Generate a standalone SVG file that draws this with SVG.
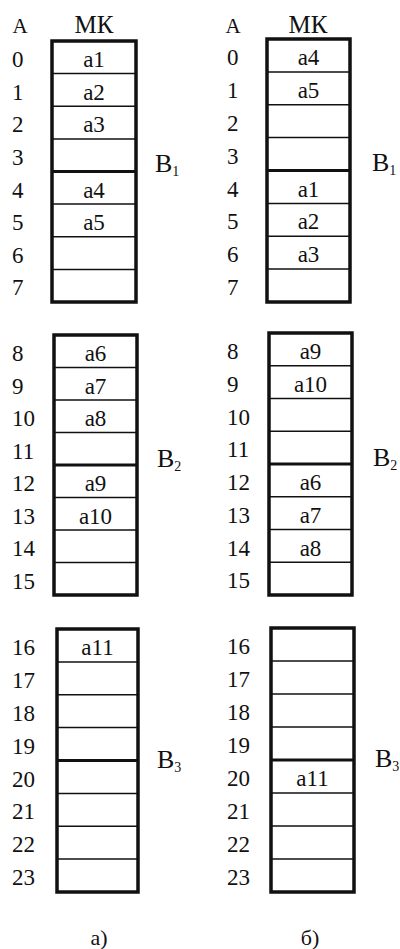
<svg xmlns="http://www.w3.org/2000/svg" width="400" height="949" viewBox="0 0 400 949" font-family="'Liberation Serif', 'DejaVu Serif', serif">
<style>
text{font-family:'Liberation Serif','DejaVu Serif',serif;fill:#111}
.hd{font-size:21px}
.mk{font-size:25px}
.n{font-size:23px}
.c{font-size:23px;text-anchor:middle}
.b{font-size:26px}
.s{font-size:14px}
.cap{font-size:22px;text-anchor:middle}
.outer{fill:#fff;stroke:#111;stroke-width:3.5}
.thin{stroke:#111;stroke-width:1.5}
.thick{stroke:#111;stroke-width:3}
</style>
<rect width="400" height="949" fill="#fff"/>
<g id="headers">
<text class="hd" x="20" y="33" text-anchor="middle">A</text>
<text class="mk" x="94" y="33" text-anchor="middle">МК</text>
<text class="hd" x="233" y="33" text-anchor="middle">A</text>
<text class="mk" x="308" y="33" text-anchor="middle">МК</text>
</g>
<g id="left-b1">
<rect class="outer" x="52" y="41" width="84" height="261"/>
<line class="thin" x1="52" y1="73.6" x2="136" y2="73.6"/>
<line class="thin" x1="52" y1="106.3" x2="136" y2="106.3"/>
<line class="thin" x1="52" y1="138.9" x2="136" y2="138.9"/>
<line class="thick" x1="52" y1="171.5" x2="136" y2="171.5"/>
<line class="thin" x1="52" y1="204.1" x2="136" y2="204.1"/>
<line class="thin" x1="52" y1="236.8" x2="136" y2="236.8"/>
<line class="thin" x1="52" y1="269.4" x2="136" y2="269.4"/>
<text class="n" x="12" y="67">0</text>
<text class="n" x="12" y="99.6">1</text>
<text class="n" x="12" y="132.3">2</text>
<text class="n" x="12" y="164.9">3</text>
<text class="n" x="12" y="197.5">4</text>
<text class="n" x="12" y="230.1">5</text>
<text class="n" x="12" y="262.8">6</text>
<text class="n" x="12" y="295.4">7</text>
<text class="c" x="94" y="67">a1</text>
<text class="c" x="94" y="99.6">a2</text>
<text class="c" x="94" y="132.3">a3</text>
<text class="c" x="94" y="197.5">a4</text>
<text class="c" x="94" y="230.1">a5</text>
<text class="b" x="155" y="172">B<tspan class="s" dy="4">1</tspan></text>
</g>
<g id="left-b2">
<rect class="outer" x="54" y="335" width="83" height="260"/>
<line class="thin" x1="54" y1="367.5" x2="137" y2="367.5"/>
<line class="thin" x1="54" y1="400" x2="137" y2="400"/>
<line class="thin" x1="54" y1="432.5" x2="137" y2="432.5"/>
<line class="thick" x1="54" y1="465" x2="137" y2="465"/>
<line class="thin" x1="54" y1="497.5" x2="137" y2="497.5"/>
<line class="thin" x1="54" y1="530" x2="137" y2="530"/>
<line class="thin" x1="54" y1="562.5" x2="137" y2="562.5"/>
<text class="n" x="12" y="361">8</text>
<text class="n" x="12" y="393.5">9</text>
<text class="n" x="12" y="426">10</text>
<text class="n" x="12" y="458.5">11</text>
<text class="n" x="12" y="491">12</text>
<text class="n" x="12" y="523.5">13</text>
<text class="n" x="12" y="556">14</text>
<text class="n" x="12" y="588.5">15</text>
<text class="c" x="95.5" y="361">a6</text>
<text class="c" x="95.5" y="393.5">a7</text>
<text class="c" x="95.5" y="426">a8</text>
<text class="c" x="95.5" y="491">a9</text>
<text class="c" x="95.5" y="523.5">a10</text>
<text class="b" x="157" y="467">B<tspan class="s" dy="4">2</tspan></text>
</g>
<g id="left-b3">
<rect class="outer" x="57" y="629" width="81" height="263"/>
<line class="thin" x1="57" y1="661.9" x2="138" y2="661.9"/>
<line class="thin" x1="57" y1="694.8" x2="138" y2="694.8"/>
<line class="thin" x1="57" y1="727.6" x2="138" y2="727.6"/>
<line class="thick" x1="57" y1="760.5" x2="138" y2="760.5"/>
<line class="thin" x1="57" y1="793.4" x2="138" y2="793.4"/>
<line class="thin" x1="57" y1="826.3" x2="138" y2="826.3"/>
<line class="thin" x1="57" y1="859.1" x2="138" y2="859.1"/>
<text class="n" x="12" y="655">16</text>
<text class="n" x="12" y="687.9">17</text>
<text class="n" x="12" y="720.8">18</text>
<text class="n" x="12" y="753.6">19</text>
<text class="n" x="12" y="786.5">20</text>
<text class="n" x="12" y="819.4">21</text>
<text class="n" x="12" y="852.3">22</text>
<text class="n" x="12" y="885.1">23</text>
<text class="c" x="97.5" y="655">a11</text>
<text class="b" x="157" y="768">B<tspan class="s" dy="4">3</tspan></text>
</g>
<g id="right-b1">
<rect class="outer" x="267" y="39" width="83" height="263"/>
<line class="thin" x1="267" y1="71.9" x2="350" y2="71.9"/>
<line class="thin" x1="267" y1="104.8" x2="350" y2="104.8"/>
<line class="thin" x1="267" y1="137.6" x2="350" y2="137.6"/>
<line class="thick" x1="267" y1="170.5" x2="350" y2="170.5"/>
<line class="thin" x1="267" y1="203.4" x2="350" y2="203.4"/>
<line class="thin" x1="267" y1="236.3" x2="350" y2="236.3"/>
<line class="thin" x1="267" y1="269.1" x2="350" y2="269.1"/>
<text class="n" x="227" y="65">0</text>
<text class="n" x="227" y="97.9">1</text>
<text class="n" x="227" y="130.8">2</text>
<text class="n" x="227" y="163.6">3</text>
<text class="n" x="227" y="196.5">4</text>
<text class="n" x="227" y="229.4">5</text>
<text class="n" x="227" y="262.3">6</text>
<text class="n" x="227" y="295.1">7</text>
<text class="c" x="308.5" y="65">a4</text>
<text class="c" x="308.5" y="97.9">a5</text>
<text class="c" x="308.5" y="196.5">a1</text>
<text class="c" x="308.5" y="229.4">a2</text>
<text class="c" x="308.5" y="262.3">a3</text>
<text class="b" x="372" y="171">B<tspan class="s" dy="4">1</tspan></text>
</g>
<g id="right-b2">
<rect class="outer" x="269" y="333" width="83" height="262"/>
<line class="thin" x1="269" y1="365.8" x2="352" y2="365.8"/>
<line class="thin" x1="269" y1="398.5" x2="352" y2="398.5"/>
<line class="thin" x1="269" y1="431.3" x2="352" y2="431.3"/>
<line class="thick" x1="269" y1="464" x2="352" y2="464"/>
<line class="thin" x1="269" y1="496.8" x2="352" y2="496.8"/>
<line class="thin" x1="269" y1="529.5" x2="352" y2="529.5"/>
<line class="thin" x1="269" y1="562.3" x2="352" y2="562.3"/>
<text class="n" x="227" y="359">8</text>
<text class="n" x="227" y="391.8">9</text>
<text class="n" x="227" y="424.5">10</text>
<text class="n" x="227" y="457.3">11</text>
<text class="n" x="227" y="490">12</text>
<text class="n" x="227" y="522.8">13</text>
<text class="n" x="227" y="555.5">14</text>
<text class="n" x="227" y="588.3">15</text>
<text class="c" x="310.5" y="359">a9</text>
<text class="c" x="310.5" y="391.8">a10</text>
<text class="c" x="310.5" y="490">a6</text>
<text class="c" x="310.5" y="522.8">a7</text>
<text class="c" x="310.5" y="555.5">a8</text>
<text class="b" x="373" y="466">B<tspan class="s" dy="4">2</tspan></text>
</g>
<g id="right-b3">
<rect class="outer" x="271" y="628" width="83" height="264"/>
<line class="thin" x1="271" y1="661" x2="354" y2="661"/>
<line class="thin" x1="271" y1="694" x2="354" y2="694"/>
<line class="thin" x1="271" y1="727" x2="354" y2="727"/>
<line class="thick" x1="271" y1="760" x2="354" y2="760"/>
<line class="thin" x1="271" y1="793" x2="354" y2="793"/>
<line class="thin" x1="271" y1="826" x2="354" y2="826"/>
<line class="thin" x1="271" y1="859" x2="354" y2="859"/>
<text class="n" x="227" y="654">16</text>
<text class="n" x="227" y="687">17</text>
<text class="n" x="227" y="720">18</text>
<text class="n" x="227" y="753">19</text>
<text class="n" x="227" y="786">20</text>
<text class="n" x="227" y="819">21</text>
<text class="n" x="227" y="852">22</text>
<text class="n" x="227" y="885">23</text>
<text class="c" x="312.5" y="786">a11</text>
<text class="b" x="375" y="767">B<tspan class="s" dy="4">3</tspan></text>
</g>
<g id="captions">
<text class="cap" x="99" y="945">а)</text>
<text class="cap" x="310" y="945">б)</text>
</g>
<g id="connectors"></g>
</svg>
